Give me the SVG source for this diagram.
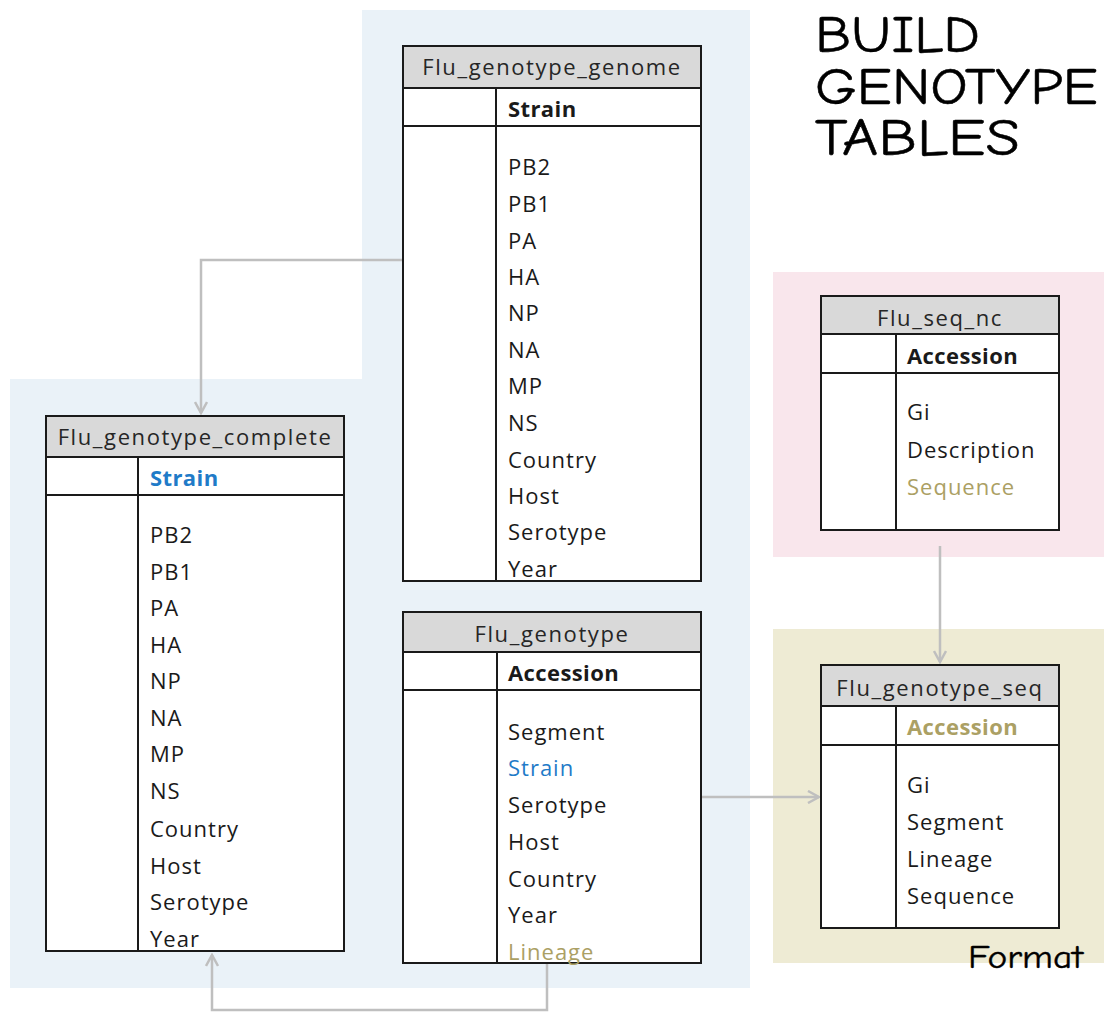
<svg xmlns="http://www.w3.org/2000/svg" width="1104" height="1012" viewBox="0 0 1104 1012">
<defs>
<style>
.hdr{fill:#D9D9D9;stroke:#1a1a1a;stroke-width:2}
.box{fill:#FFFFFF;stroke:#1a1a1a;stroke-width:2}
.ln{stroke:#1a1a1a;stroke-width:2;fill:none}
.t{font-family:"Open Sans","Liberation Sans",sans-serif;font-size:22px;letter-spacing:1px;fill:#1a1a1a}
.ht{font-family:"Open Sans","Liberation Sans",sans-serif;font-size:22px;letter-spacing:1.6px;fill:#262626;text-anchor:middle}
.b{font-weight:bold;letter-spacing:0.4px}
.blue{fill:#1F7BC8}
.tan{fill:#ABA064}
.conn{stroke:#BFBFBF;stroke-width:2.5;fill:none}
.title{font-family:"Comic Sans MS","Comic Neue","DejaVu Sans",sans-serif;font-weight:normal;fill:#000;stroke:#000;stroke-width:0.5px}
</style>
<marker id="arr" viewBox="0 0 14 14" refX="12" refY="7" markerWidth="14" markerHeight="14" markerUnits="userSpaceOnUse" orient="auto">
<path d="M1,1 L12,7 L1,13" fill="none" stroke="#BFBFBF" stroke-width="2.5"/>
</marker>
</defs>
<rect width="1104" height="1012" fill="#FFFFFF"/>
<path d="M362,10 H750 V988 H10 V379 H362 Z" fill="#EAF2F8"/>
<rect x="773" y="272" width="331" height="285" fill="#F9E6EC"/>
<rect x="773" y="629" width="331" height="334" fill="#EEEBD4"/>

<g id="connectors">
<path class="conn" d="M403,260 H201 V413" marker-end="url(#arr)"/>
<path class="conn" d="M702,797 H819" marker-end="url(#arr)"/>
<path class="conn" d="M940,546 V662" marker-end="url(#arr)"/>
<path class="conn" d="M547,964 V1010 H212 V955" marker-end="url(#arr)"/>
</g>

<g id="flu_genotype_genome">
<rect class="box" x="403" y="46" width="298" height="535"/>
<rect class="hdr" x="403" y="46" width="298" height="42"/>
<line class="ln" x1="403" y1="126" x2="701" y2="126"/>
<line class="ln" x1="496" y1="88" x2="496" y2="581"/>
<text class="ht" x="552" y="75">Flu_genotype_genome</text>
<text class="t b" x="508" y="117">Strain</text>
<text class="t" x="508" y="175">PB2</text>
<text class="t" x="508" y="212">PB1</text>
<text class="t" x="508" y="249">PA</text>
<text class="t" x="508" y="285">HA</text>
<text class="t" x="508" y="321">NP</text>
<text class="t" x="508" y="358">NA</text>
<text class="t" x="508" y="394">MP</text>
<text class="t" x="508" y="431">NS</text>
<text class="t" x="508" y="468">Country</text>
<text class="t" x="508" y="504">Host</text>
<text class="t" x="508" y="540">Serotype</text>
<text class="t" x="508" y="577">Year</text>
</g>

<g id="flu_genotype_complete">
<rect class="box" x="46" y="416" width="298" height="535"/>
<rect class="hdr" x="46" y="416" width="298" height="41"/>
<line class="ln" x1="46" y1="495" x2="344" y2="495"/>
<line class="ln" x1="138" y1="457" x2="138" y2="951"/>
<text class="ht" x="195" y="445">Flu_genotype_complete</text>
<text class="t b blue" x="150" y="486">Strain</text>
<text class="t" x="150" y="543">PB2</text>
<text class="t" x="150" y="580">PB1</text>
<text class="t" x="150" y="616">PA</text>
<text class="t" x="150" y="653">HA</text>
<text class="t" x="150" y="689">NP</text>
<text class="t" x="150" y="726">NA</text>
<text class="t" x="150" y="762">MP</text>
<text class="t" x="150" y="799">NS</text>
<text class="t" x="150" y="837">Country</text>
<text class="t" x="150" y="874">Host</text>
<text class="t" x="150" y="910">Serotype</text>
<text class="t" x="150" y="947">Year</text>
</g>

<g id="flu_genotype">
<rect class="box" x="403" y="612" width="298" height="351"/>
<rect class="hdr" x="403" y="612" width="298" height="40"/>
<line class="ln" x1="403" y1="690" x2="701" y2="690"/>
<line class="ln" x1="497" y1="652" x2="497" y2="963"/>
<text class="ht" x="552" y="642">Flu_genotype</text>
<text class="t b" x="508" y="681">Accession</text>
<text class="t" x="508" y="740">Segment</text>
<text class="t blue" x="508" y="776">Strain</text>
<text class="t" x="508" y="813">Serotype</text>
<text class="t" x="508" y="850">Host</text>
<text class="t" x="508" y="887">Country</text>
<text class="t" x="508" y="923">Year</text>
<text class="t tan" x="508" y="960">Lineage</text>
</g>

<g id="flu_seq_nc">
<rect class="box" x="821" y="296" width="238" height="234"/>
<rect class="hdr" x="821" y="296" width="238" height="38"/>
<line class="ln" x1="821" y1="373" x2="1059" y2="373"/>
<line class="ln" x1="896" y1="334" x2="896" y2="530"/>
<text class="ht" x="940" y="326">Flu_seq_nc</text>
<text class="t b" x="907" y="364">Accession</text>
<text class="t" x="907" y="420">Gi</text>
<text class="t" x="907" y="458">Description</text>
<text class="t tan" x="907" y="495">Sequence</text>
</g>

<g id="flu_genotype_seq">
<rect class="box" x="821" y="665" width="238" height="263"/>
<rect class="hdr" x="821" y="665" width="238" height="41"/>
<line class="ln" x1="821" y1="745" x2="1059" y2="745"/>
<line class="ln" x1="896" y1="706" x2="896" y2="928"/>
<text class="ht" x="940" y="696">Flu_genotype_seq</text>
<text class="t b tan" x="907" y="735">Accession</text>
<text class="t" x="907" y="793">Gi</text>
<text class="t" x="907" y="830">Segment</text>
<text class="t" x="907" y="867">Lineage</text>
<text class="t" x="907" y="904">Sequence</text>
</g>

<g id="title">
<text class="title" font-size="52"><tspan x="815" y="52" textLength="165" lengthAdjust="spacingAndGlyphs">BUILD</tspan><tspan x="815" y="104" textLength="283" lengthAdjust="spacingAndGlyphs">GENOTYPE</tspan><tspan x="815" y="155" textLength="205" lengthAdjust="spacingAndGlyphs">TABLES</tspan></text>
</g>
<text id="format" class="title" x="968" y="968" font-size="33" style="stroke-width:0.4px" textLength="115" lengthAdjust="spacingAndGlyphs">Format</text>
</svg>
